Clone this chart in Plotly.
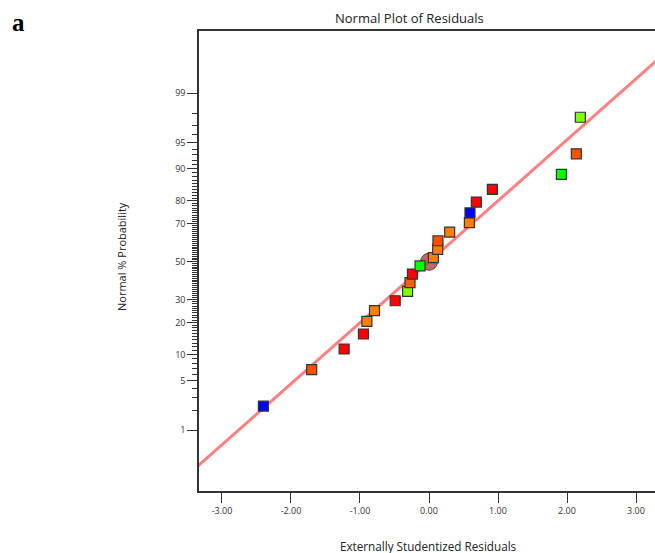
import plotly.graph_objects as go
from statistics import NormalDist

# ---- data ----
residuals = [-2.40, -1.70, -1.23, -0.95, -0.90, -0.79, -0.49, -0.31, -0.275, -0.24, -0.13,
             0.063, 0.126, 0.13, 0.30, 0.585, 0.594, 0.686, 0.918, 1.918, 2.135, 2.193]
percent = [2.3, 6.8, 11.4, 15.9, 20.5, 25.0, 29.5, 34.1, 38.6, 43.2, 47.7,
           52.3, 56.8, 61.4, 65.9, 70.5, 75.0, 79.5, 84.1, 88.6, 93.2, 97.7]
point_colors = ["#0000FF", "#FF5000", "#FF0000", "#FF0000", "#FF8000", "#FF8000", "#FF0000",
                "#80FF00", "#FF6000", "#FF0000", "#00FF00", "#FF8000", "#FF8000", "#FF5000",
                "#FF8000", "#FF8000", "#0000FF", "#FF0000", "#FF0000", "#00FF00", "#FF5000",
                "#80FF00"]
fit_x = [-3.6, 3.6]
fit_slope = 0.8425
center_x = [0.0]
center_pct = [50.0]

y_major = [1, 5, 10, 20, 30, 50, 70, 80, 90, 95, 99]
y_minor = [p for p in range(2, 99) if p not in y_major]
x_ticks = [-3, -2, -1, 0, 1, 2, 3]
x_ticklabels = ["-3.00", "-2.00", "-1.00", "0.00", "1.00", "2.00", "3.00"]

nd = NormalDist()
def probit(p):
    return nd.inv_cdf(p / 100.0)

fig = go.Figure()

fig.add_trace(go.Scatter(
    x=fit_x, y=[fit_slope * v for v in fit_x], mode="lines",
    line=dict(color="#FF8080", width=3), hoverinfo="skip", showlegend=False))

fig.add_trace(go.Scatter(
    x=center_x, y=[probit(p) for p in center_pct], mode="markers",
    marker=dict(symbol="circle", size=17, color="rgba(175,80,80,0.85)",
                line=dict(color="#6a3a3a", width=1)),
    showlegend=False))

fig.add_trace(go.Scatter(
    x=residuals, y=[probit(p) for p in percent], mode="markers",
    marker=dict(symbol="square", size=10, color=point_colors,
                line=dict(color="#333333", width=1.2)),
    showlegend=False))

font_family = "Open Sans, Noto Sans, sans-serif"

fig.update_layout(
    width=655, height=553,
    margin=dict(l=199, r=0, t=31, b=62),
    paper_bgcolor="white", plot_bgcolor="white",
    font=dict(family=font_family, color="#333333", size=9),
    showlegend=False,
)

fig.update_xaxes(
    range=[-3.333, 3.275], tickvals=x_ticks, ticktext=x_ticklabels,
    showgrid=False, zeroline=False, showline=True, mirror=True,
    linecolor="#333333", linewidth=1.5,
    ticks="outside", ticklen=10, tickwidth=1.2, tickcolor="#333333",
    tickfont=dict(size=9, family=font_family, color="#333333"),
)

fig.update_yaxes(
    range=[-3.167, 3.187],
    tickvals=[probit(p) for p in y_major], ticktext=[str(p) for p in y_major],
    showgrid=False, zeroline=False, showline=True, mirror=False,
    linecolor="#333333", linewidth=1.5,
    ticks="outside", ticklen=10, tickwidth=1.2, tickcolor="#333333",
    tickfont=dict(size=9, family=font_family, color="#333333"),
    minor=dict(tickvals=[probit(p) for p in y_minor], ticks="outside", ticklen=5,
               tickwidth=1, tickcolor="#333333", showgrid=False),
)

fig.add_annotation(text="Normal Plot of Residuals", xref="paper", yref="paper",
                   x=(409 - 199) / 456, y=1, yshift=13, showarrow=False,
                   font=dict(size=13, family=font_family, color="#222222"),
                   xanchor="center", yanchor="middle")
fig.add_annotation(text="Externally Studentized Residuals", xref="paper", yref="paper",
                   x=(428 - 199) / 456, y=0, yshift=-55, showarrow=False,
                   font=dict(size=11.7, family=font_family, color="#222222"),
                   xanchor="center", yanchor="middle")
fig.add_annotation(text="Normal % Probability", xref="paper", yref="paper",
                   x=0, xshift=-78, y=(491 - 257) / 460, showarrow=False, textangle=-90,
                   font=dict(size=11, family=font_family, color="#222222"),
                   xanchor="center", yanchor="middle")
fig.add_annotation(text="<b>a</b>", xref="paper", yref="paper",
                   x=0, xshift=-181, y=1, yshift=9, showarrow=False,
                   font=dict(size=25, family="Liberation Serif, serif", color="#000000"),
                   xanchor="center", yanchor="middle")

fig.write_html("out.html")
